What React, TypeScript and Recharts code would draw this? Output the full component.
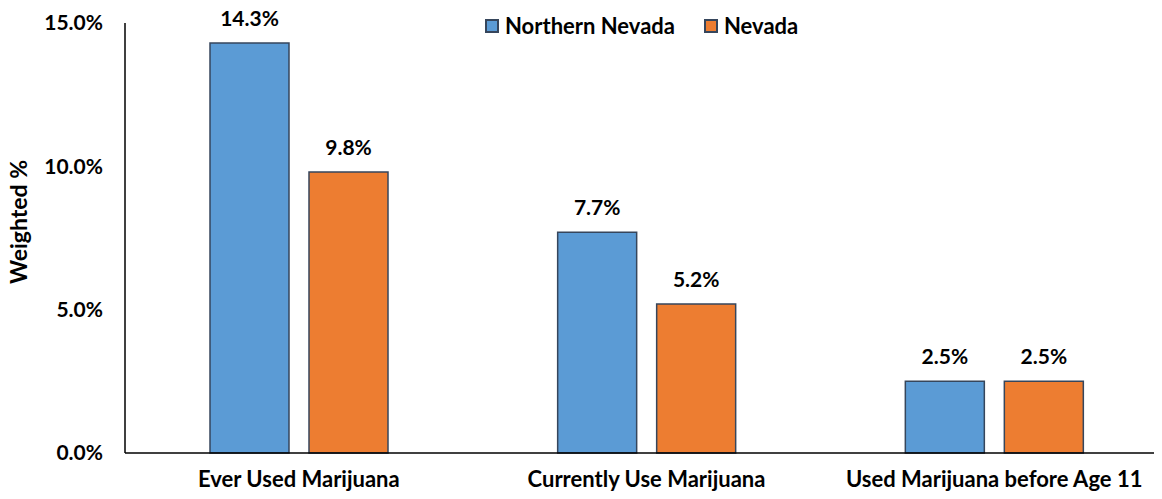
import React from 'react';
import { BarChart, Bar, XAxis, YAxis, Legend, LabelList } from 'recharts';

const categories = ['Ever Used Marijuana', 'Currently Use Marijuana', 'Used Marijuana before Age 11'];
const northernNevada = [14.3, 7.7, 2.5];
const nevada = [9.8, 5.2, 2.5];
const yTicks = [0, 5, 10, 15];

const series = [
  { key: 'northern', name: 'Northern Nevada', color: '#5B9BD5' },
  { key: 'nevada', name: 'Nevada', color: '#ED7D31' },
];

const data = categories.map((c, i) => ({ name: c, northern: northernNevada[i], nevada: nevada[i] }));

const FONT = 'Lato, "Open Sans", sans-serif';
const OUTLINE = '#36465C';

const pct = (v: number) => `${v.toFixed(1)}%`;

const renderLegend = () => (
  <div style={{ display: 'flex', alignItems: 'center', fontFamily: FONT, fontWeight: 700, fontSize: 22, color: '#000', lineHeight: 1 }}>
    {series.map((s, i) => (
      <div key={s.key} style={{ display: 'flex', alignItems: 'center', marginRight: i === 0 ? 29 : 0 }}>
        <span style={{ display: 'inline-block', boxSizing: 'border-box', width: 14, height: 14, background: s.color, border: `2px solid ${OUTLINE}`, marginRight: 6 }} />
        <span>{s.name}</span>
      </div>
    ))}
  </div>
);

const YLabel = (props: any) => {
  const { viewBox } = props;
  const cx = 18;
  const cy = viewBox.y + viewBox.height / 2 - 16;
  return (
    <text x={cx} y={cy} transform={`rotate(-90 ${cx} ${cy})`} textAnchor="middle" dominantBaseline="central"
      fontFamily={FONT} fontWeight={700} fontSize={23} fill="#000">
      Weighted %
    </text>
  );
};

export default function App() {
  return (
    <div style={{ margin: -8, width: 1162, height: 499, overflow: 'hidden', background: '#fff' }}>
      <BarChart width={1168} height={499} data={data} barSize={79} barGap={20}
        margin={{ top: 23, right: 0, bottom: 16, left: 0 }}>
        <XAxis dataKey="name" axisLine={{ stroke: '#000', strokeWidth: 1.5 }} tickLine={false} tickMargin={12}
          tick={{ fill: '#000', fontFamily: FONT, fontWeight: 700, fontSize: 22 }} interval={0} />
        <YAxis width={125} domain={[0, 15]} ticks={yTicks} tickFormatter={pct} axisLine={{ stroke: '#000', strokeWidth: 1.5 }}
          tickLine={false} tickMargin={16} tick={{ fill: '#000', fontFamily: FONT, fontWeight: 700, fontSize: 21 }}
          label={<YLabel />} />
        <Legend verticalAlign="middle" align="center" content={renderLegend}
          wrapperStyle={{ top: 15, left: 485, width: 'auto' }} />
        {series.map((s) => (
          <Bar key={s.key} dataKey={s.key} name={s.name} fill={s.color} stroke={OUTLINE} strokeWidth={1.5} isAnimationActive={false}>
            <LabelList dataKey={s.key} position="top" offset={17} formatter={(v: any) => pct(Number(v))}
              style={{ fill: '#000', fontFamily: FONT, fontWeight: 700, fontSize: 21 }} />
          </Bar>
        ))}
      </BarChart>
    </div>
  );
}
